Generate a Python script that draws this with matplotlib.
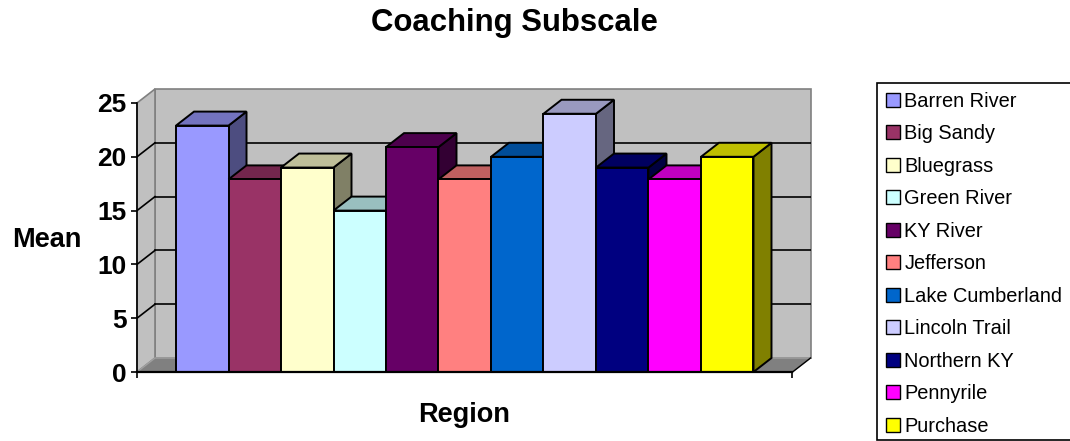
import matplotlib.pyplot as plt
from matplotlib.patches import Polygon, Rectangle
from matplotlib.colors import to_rgb
import numpy as np

plt.rcParams['font.family'] = ['Liberation Sans', 'DejaVu Sans']

# Coaching subscale mean per region
regions = ["Barren River", "Big Sandy", "Bluegrass", "Green River", "KY River",
           "Jefferson", "Lake Cumberland", "Lincoln Trail", "Northern KY",
           "Pennyrile", "Purchase"]
means = [22.9, 17.9, 19.0, 15.0, 20.9, 17.9, 20.0, 24.0, 19.0, 17.9, 20.0]
colors = ["#9999FF", "#993366", "#FFFFCC", "#CCFFFF", "#660066", "#FF8080",
          "#0066CC", "#CCCCFF", "#000080", "#FF00FF", "#FFFF00"]
yticks = [0, 5, 10, 15, 20, 25]

W, H = 1070, 441
def fx(x):
    return x / W
def fy(y):
    return 1 - y / H

# oblique "3d" look: depth offset in data units
gap = 0.743
dx = 0.343
dy = 1.30
ymax = yticks[-1]
n = len(means)
x0, x1 = -gap, n + gap

fig = plt.figure(figsize=(W / 100, H / 100), dpi=100)
ax = fig.add_axes([fx(137), fy(372), 673.5 / W, 283 / H])
ax.set_xlim(x0, x1 + dx)
ax.set_ylim(0, ymax + dy)
ax.patch.set_visible(False)

def shade(c, f):
    return tuple(np.array(to_rgb(c)) * f)

# walls and floor
wall = "#C0C0C0"
back = Polygon([(x0 + dx, dy), (x1 + dx, dy), (x1 + dx, ymax + dy), (x0 + dx, ymax + dy)],
               closed=True, fc=wall, ec="#808080", lw=1.2, zorder=0)
left = Polygon([(x0, 0), (x0 + dx, dy), (x0 + dx, ymax + dy), (x0, ymax)],
               closed=True, fc=wall, ec="#808080", lw=1.2, zorder=0)
floor = Polygon([(x0, 0), (x1, 0), (x1 + dx, dy), (x0 + dx, dy)],
                closed=True, fc="#808080", ec="#A0A0A0", lw=1.0, zorder=0.5)
for p in (back, left, floor):
    p.set_clip_on(False)
    ax.add_patch(p)
ax.plot([x1, x1 + dx], [0, dy], color="black", lw=1.0, zorder=0.6, clip_on=False)

# gridlines on back and left walls
for v in yticks[1:-1]:
    ax.plot([x0 + dx, x1 + dx], [v + dy, v + dy], color="black", lw=1.2, zorder=0.8)
    ax.plot([x0, x0 + dx], [v, v + dy], color="black", lw=1.2, zorder=0.8)

# bars, left to right so each one covers its neighbour's hidden side
for i, (v, c) in enumerate(zip(means, colors)):
    z = 3 + 2 * i
    side = Polygon([(i + 1, 0), (i + 1 + dx, dy), (i + 1 + dx, v + dy), (i + 1, v)],
                   closed=True, fc=shade(c, 0.5), ec="black", lw=1.4, zorder=z)
    top = Polygon([(i, v), (i + 1, v), (i + 1 + dx, v + dy), (i + dx, v + dy)],
                  closed=True, fc=shade(c, 0.75), ec="black", lw=1.4, zorder=z)
    for p in (side, top):
        p.set_clip_on(False)
        ax.add_patch(p)
    ax.bar(i, v, width=1, align="edge", color=c, edgecolor="black", lw=1.4,
           zorder=z + 1, clip_on=False)

# axes
for s in ("top", "right"):
    ax.spines[s].set_visible(False)
ax.spines["left"].set_bounds(0, ymax)
ax.spines["bottom"].set_bounds(x0, x1)
ax.spines["left"].set_linewidth(1.2)
ax.spines["bottom"].set_linewidth(1.6)
ax.spines["bottom"].set_zorder(50)
ax.set_yticks(yticks)
ax.set_yticklabels([str(t) for t in yticks], fontsize=19, fontweight="bold")
ax.set_xticks([x0, x1])
ax.set_xticklabels([])
ax.tick_params(axis="both", direction="out", length=4.5, width=1.2, pad=3)

fig.text(fx(514), fy(23), "Coaching Subscale", ha="center", va="center",
         fontsize=22.4, fontweight="bold")
fig.text(fx(47), fy(240), "Mean", ha="center", va="center",
         fontsize=19.5, fontweight="bold")
fig.text(fx(464), fy(415), "Region", ha="center", va="center",
         fontsize=19.5, fontweight="bold")

# legend box, running off the right edge
fig.patches.append(Rectangle((fx(877), fy(439.5)), fx(1200 - 877), (439.5 - 83) / H,
                             transform=fig.transFigure, fc="white", ec="black", lw=1.2))
for i, (name, c) in enumerate(zip(regions, colors)):
    base = 106.7 + 32.5 * i
    fig.patches.append(Rectangle((fx(885.5), fy(base)), 14 / W, 14 / H,
                                 transform=fig.transFigure, fc=c, ec="black", lw=1.0))
    fig.text(fx(904.5), fy(base), name, ha="left", va="baseline", fontsize=14.4)

fig.savefig("out.png", dpi=100)
